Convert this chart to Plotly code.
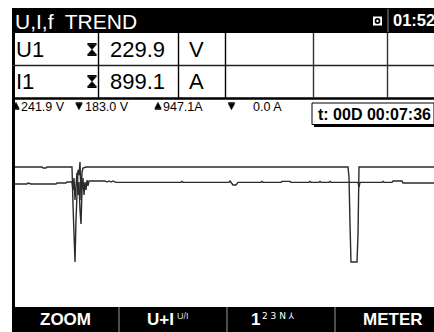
import plotly.graph_objects as go

# ---- recorded trend data (time in s from start of window) ----
t_current = [0, 28, 29, 32, 33, 58, 59, 60, 61, 62, 63, 64, 65, 66, 67, 68, 69, 72,
             334, 335, 336, 337, 343, 344, 345, 420]
i1_amps = [899.1, 899.1, 889.6, 889.6, 899.1, 899.1, 539.5, 179.8, 0.0, 397.5, 776.1,
           870.7, 823.4, 947.1, 586.8, 851.8, 889.6, 899.1,
           899.1, 804.5, 359.7, 0.0, 0.0, 255.5, 899.1, 899.1]

t_voltage = [0, 13, 14, 17, 42, 43, 52, 53, 58, 59, 60, 61, 62, 63, 64, 65, 66, 67, 68,
             69, 70, 71, 72, 73, 74, 75, 91, 93, 95, 97, 99, 102, 167, 168, 169, 215, 216,
             219, 222, 224, 226, 247, 248, 249, 267, 268, 276, 277, 295, 296, 297, 305,
             306, 307, 315, 316, 317, 344, 345, 346, 368, 369, 370, 378, 379, 388, 389, 420]
u1_volts = [228.8, 228.8, 229.9, 228.8, 228.8, 229.9, 229.9, 231.0, 231.0, 221.9, 235.6,
            210.5, 226.5, 241.9, 216.2, 231.0, 199.0, 183.0, 221.9, 235.6, 216.2, 231.0,
            221.9, 233.3, 226.5, 232.2, 232.2, 231.0, 232.2, 231.0, 232.2, 230.6, 230.6,
            231.7, 230.6, 230.6, 232.2, 227.6, 227.6, 230.6, 230.6, 230.6, 231.7, 230.6,
            230.6, 231.7, 231.7, 230.6, 230.6, 231.7, 230.6, 230.6, 231.7, 230.6, 230.6,
            231.7, 230.6, 230.6, 225.3, 230.6, 230.6, 231.7, 230.6, 230.6, 232.2, 232.2,
            229.9, 229.9]

# ---- readout texts ----
title_text = "U,I,f  TREND"
clock_text = "01:52"
row_names = ["U1", "I1"]
row_values = ["229.9", "899.1"]
row_units = ["V", "A"]
stat_values = ["241.9 V", "183.0 V", "947.1A", "0.0 A"]
stat_marks = ["▲", "▼", "▲", "▼"]
duration_text = "t: 00D 00:07:36"
softkeys = ["ZOOM", "U+I", "1", "METER"]

W, H = 434, 332


def X(px):
    return px / W


def Y(py):
    return 1 - py / H


shapes = []
annotations = []


def rect(x0, y0, x1, y1, fill, line_color=None, lw=0):
    shapes.append(dict(type="rect", xref="paper", yref="paper",
                       x0=X(x0), x1=X(x1), y0=Y(y1), y1=Y(y0),
                       fillcolor=fill,
                       line=dict(color=line_color or fill, width=lw), layer="above"))


def line(x0, y0, x1, y1, color="#000", lw=1):
    shapes.append(dict(type="line", xref="paper", yref="paper",
                       x0=X(x0), x1=X(x1), y0=Y(y0), y1=Y(y1),
                       line=dict(color=color, width=lw), layer="above"))


def path(pts, fill):
    d = "M " + " L ".join(f"{X(a):.5f},{Y(b):.5f}" for a, b in pts) + " Z"
    shapes.append(dict(type="path", xref="paper", yref="paper", path=d,
                       fillcolor=fill, line=dict(color=fill, width=0.5), layer="above"))


def text(px, py, s, size, color="#000", anchor="left", bold=False, family="Liberation Sans, Arial"):
    annotations.append(dict(xref="paper", yref="paper", x=X(px), y=Y(py), text=f"<b>{s}</b>" if bold else s,
                            showarrow=False, xanchor=anchor, yanchor="middle",
                            font=dict(size=size, color=color, family=family),
                            borderpad=0))


def hourglass(cx, cy, w=9, h=13):
    x0, x1 = cx - w / 2, cx + w / 2
    y0, y1 = cy - h / 2, cy + h / 2
    rect(x0, y0, x1, y0 + 1.6, "#000")
    rect(x0, y1 - 1.6, x1, y1, "#000")
    path([(x0, y0 + 1.6), (x1, y0 + 1.6), (cx, cy)], "#000")
    path([(x0, y1 - 1.6), (x1, y1 - 1.6), (cx, cy)], "#000")


def stat_mark(cx, cy, up):
    # small max/min marker: filled triangle with a bar on its base side
    w, h = 6.5, 7.5
    x0, x1 = cx - w / 2, cx + w / 2
    y0, y1 = cy - h / 2, cy + h / 2
    if up:
        rect(x0, y1 - 1.3, x1, y1, "#000")
        path([(x0, y1 - 1.3), (x1, y1 - 1.3), (cx, y0)], "#000")
    else:
        rect(x0, y0, x1, y0 + 1.3, "#000")
        path([(x0, y0 + 1.3), (x1, y0 + 1.3), (cx, y1)], "#000")


# title bar
rect(12, 8, 434, 33, "#000")
text(14, 21, title_text, 21, "#fff")
line(388, 9, 388, 32, "#8a8a8a", 1)
rect(373, 16.5, 382, 25.5, "#fff")
shapes.append(dict(type="circle", xref="paper", yref="paper", x0=X(374.6), x1=X(380.4),
                   y0=Y(23.9), y1=Y(18.1), fillcolor="#000", line=dict(width=0), layer="above"))
shapes.append(dict(type="circle", xref="paper", yref="paper", x0=X(376.3), x1=X(378.7),
                   y0=Y(22.2), y1=Y(19.8), fillcolor="#fff", line=dict(width=0), layer="above"))
text(392, 20.5, clock_text, 16.5, "#fff", bold=True)

# measurement table
line(13.5, 33, 13.5, 307, "#000", 3)
line(12, 65.5, 434, 65.5, "#222", 1.3)
line(12, 98.5, 434, 98.5, "#000", 2.5)
for vx, col in [(98.5, "#000"), (178.5, "#000"), (225.5, "#000"), (313.5, "#333"), (387.5, "#333")]:
    line(vx, 33, vx, 98, col, 1.4)
for k, cy in enumerate([49.5, 81.5]):
    text(15, cy, row_names[k], 22)
    hourglass(92, cy)
    text(109, cy, row_values[k], 22)
    text(188, cy, row_units[k], 22)

# min / max line
stat_mark_x = [16, 79, 158, 231.5]
stat_text_x = [19.5, 83.5, 161.5, 252]
for k in range(4):
    stat_mark(stat_mark_x[k], 106, stat_marks[k] == "▲")
    text(stat_text_x[k], 106.5, stat_values[k], 12.5)

# duration box with drop shadow
rect(314, 106, 436, 127, "#000")
rect(312, 103, 434, 124.5, "#fff", "#000", 1)
text(316.5, 114, duration_text, 16, bold=True)

# soft-key bar
rect(12, 307, 434, 332, "#000")
for dx in [119, 227, 335]:
    line(dx, 307, dx, 332, "#9a9a9a", 1)
text(65, 319, softkeys[0], 17, "#fff", anchor="center", bold=True)
text(146, 319, softkeys[1], 17, "#fff", bold=True)
text(176, 316, "U/I", 9, "#ddd")
text(250, 319, softkeys[2], 17, "#fff", bold=True)
text(261, 316, "2 3 N ⅄", 9, "#fff", family="DejaVu Sans")
text(393, 319, softkeys[3], 17, "#fff", anchor="center", bold=True)

fig = go.Figure()
fig.add_trace(go.Scatter(x=t_current, y=i1_amps, mode="lines", name="I1",
                         line=dict(color="#2b2b2b", width=1.4), yaxis="y2"))
fig.add_trace(go.Scatter(x=t_voltage, y=u1_volts, mode="lines", name="U1",
                         line=dict(color="#2b2b2b", width=1.4)))

ax_common = dict(visible=False, showgrid=False, zeroline=False, fixedrange=True)
fig.update_layout(
    width=W, height=H,
    margin=dict(l=0, r=0, t=0, b=0),
    paper_bgcolor="#fff", plot_bgcolor="#fff",
    showlegend=False,
    xaxis=dict(domain=[X(14), 1], range=[0, 420], **ax_common),
    yaxis=dict(domain=[Y(307), Y(130)], range=[88.0, 290.5], **ax_common),
    yaxis2=dict(domain=[Y(307), Y(130)], range=[-425.9, 1249.3], overlaying="y", **ax_common),
    shapes=shapes,
    annotations=annotations,
)

fig.write_html("out.html")
